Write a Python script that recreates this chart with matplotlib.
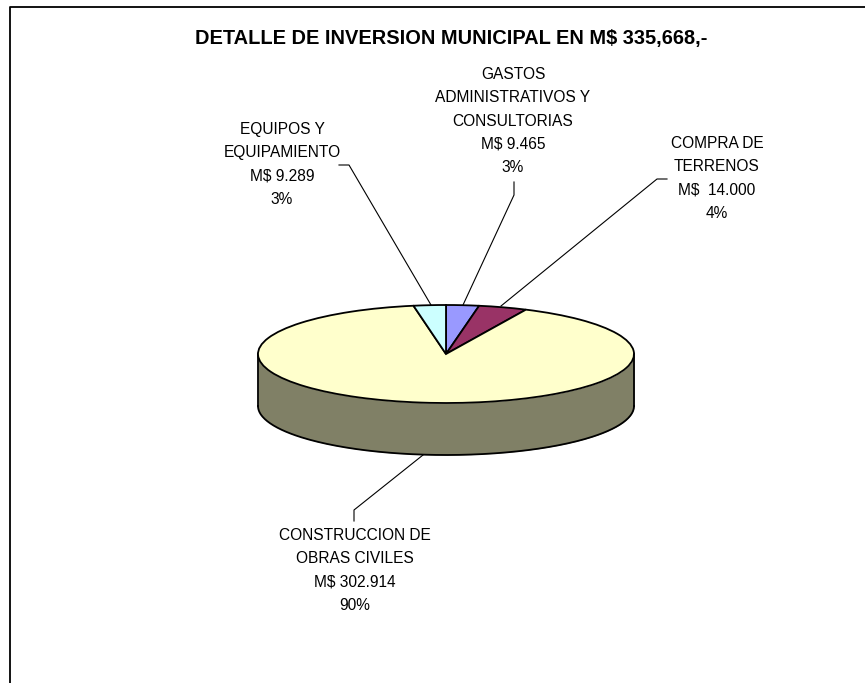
import numpy as np
import matplotlib
matplotlib.use("Agg")
import matplotlib.pyplot as plt

categories = ["GASTOS\nADMINISTRATIVOS Y\nCONSULTORIAS", "COMPRA DE\nTERRENOS", "CONSTRUCCION DE\nOBRAS CIVILES", "EQUIPOS Y\nEQUIPAMIENTO"]
values = [9465, 14000, 302914, 9289]
amounts = ["M$ 9.465", "M$  14.000", "M$ 302.914", "M$ 9.289"]
percents = ["3%", "4%", "90%", "3%"]
colors = ["#9999FF", "#993366", "#FFFFCC", "#CCFFFF"]
title = "DETALLE DE INVERSION MUNICIPAL EN M$ 335,668,-"

W, H = 865, 683
fig = plt.figure(figsize=(W / 100, H / 100), dpi=100, facecolor="white")
plt.rcParams["font.family"] = ["Liberation Sans", "DejaVu Sans"]

ov = fig.add_axes([0, 0, 1, 1])
ov.set_xlim(0, W); ov.set_ylim(H, 0); ov.axis("off")

cx, cy, rx, ry, depth = 446, 354, 188, 49, 52

pa = fig.add_axes([(cx - rx) / W, 1 - (cy + ry) / H, 2 * rx / W, 2 * ry / H])
pa.pie(values, colors=colors, startangle=90, counterclock=False,
       wedgeprops=dict(edgecolor="black", linewidth=1.3))
pa.set_aspect("auto"); pa.set_xlim(-1, 1); pa.set_ylim(-1, 1)
for w in pa.patches:
    w.set_clip_on(False)

t = np.linspace(np.pi, 2 * np.pi, 200)
x = cx + rx * np.cos(t)
y = cy - ry * np.sin(t)
ov.fill_between(x, y, y + depth, color="#808066", zorder=1, lw=0)
ov.plot(x, y + depth, color="black", lw=1.3, zorder=2)
ov.plot([cx - rx] * 2, [cy, cy + depth], color="black", lw=1.3, zorder=2)
ov.plot([cx + rx] * 2, [cy, cy + depth], color="black", lw=1.3, zorder=2)
ov.set_zorder(1); pa.set_zorder(2)

tx = fig.add_axes([0, 0, 1, 1], zorder=4)
tx.set_xlim(0, W); tx.set_ylim(H, 0); tx.axis("off")
tx.plot([10, 10, W], [H, 7, 7], color="black", lw=1.3, clip_on=False)
tx.text(451, 38.5, title, ha="center", va="center", fontsize=14.4, fontweight="bold")

label_pos = [(513, 121), (717, 178.5), (355, 570.5), (282, 164.5)]
for (lx, ly), c, a, p in zip(label_pos, categories, amounts, percents):
    tx.text(lx, ly, f"{c}\n{a}\n{p}", ha="center", va="center", fontsize=11.2, linespacing=1.68)

leaders = [([463, 514, 514], [305, 195, 182]),
           ([501, 657, 667], [306, 179, 179]),
           ([423, 354, 354], [455, 510, 521]),
           ([431, 349, 339], [305, 165, 165])]
for lxs, lys in leaders:
    tx.plot(lxs, lys, color="black", lw=0.8)

fig.savefig("out.png", dpi=100, facecolor="white")
